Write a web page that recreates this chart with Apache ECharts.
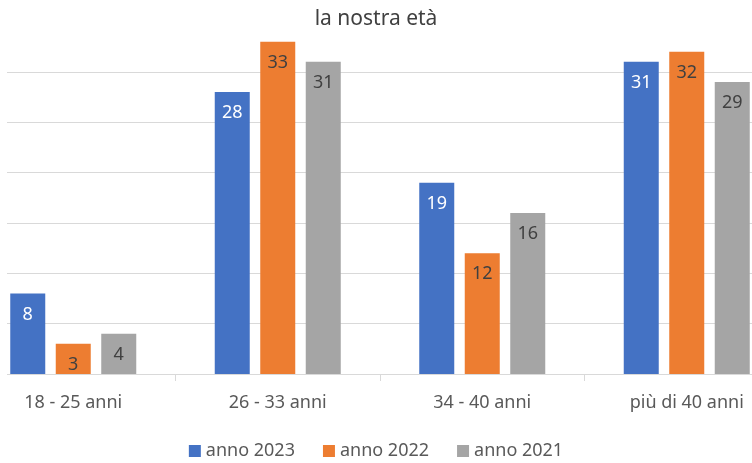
<!DOCTYPE html>
<html>
<head>
<meta charset="utf-8">
<script src="https://cdn.jsdelivr.net/npm/echarts@6/dist/echarts.min.js"></script>
<style>
  html, body { margin: 0; padding: 0; background: #fff; }
  #chart { width: 752px; height: 463px; }
</style>
</head>
<body>
<div id="chart"></div>
<script>
var categories = ['18 - 25 anni', '26 - 33 anni', '34 - 40 anni', 'più di 40 anni'];
var anno2023 = [8, 28, 19, 31];
var anno2022 = [3, 33, 12, 32];
var anno2021 = [4, 31, 16, 29];

var chart = echarts.init(document.getElementById('chart'));
var font = 'Noto Sans';

function labelOf(color) {
  return {
    show: true,
    position: 'insideTop',
    distance: 12,
    color: color,
    fontFamily: font,
    fontSize: 18
  };
}

var option = {
  animation: false,
  color: ['#4472C4', '#ED7D31', '#A5A5A5'],
  title: {
    text: 'la nostra età',
    left: 'center',
    top: 4,
    textStyle: { fontFamily: font, fontSize: 21, fontWeight: 'normal', color: '#404040' }
  },
  legend: {
    top: 437,
    left: 'center',
    icon: 'rect',
    itemWidth: 12,
    itemHeight: 12,
    itemGap: 28,
    textStyle: { fontFamily: font, fontSize: 18, color: '#595959' },
    data: ['anno 2023', 'anno 2022', 'anno 2021']
  },
  grid: { left: -29, width: 818, top: 21.6, height: 352.4, containLabel: false, outerBoundsMode: 'none' },
  xAxis: {
    type: 'category',
    data: categories,
    axisLine: { lineStyle: { color: '#D9D9D9' } },
    axisTick: { show: true, alignWithLabel: false, length: 7, lineStyle: { color: '#D9D9D9' } },
    axisLabel: { fontFamily: font, fontSize: 18, color: '#595959', margin: 20 }
  },
  yAxis: {
    type: 'value',
    min: 0,
    max: 35,
    interval: 5,
    axisLabel: { show: false },
    axisLine: { show: false },
    axisTick: { show: false },
    splitLine: { show: true, showMaxLine: false, lineStyle: { color: '#D9D9D9' } }
  },
  graphic: [{
    type: 'rect',
    shape: { x: 0, y: 15, width: 7, height: 362 },
    style: { fill: '#fff' },
    z: 100
  }],
  series: [
    { name: 'anno 2023', type: 'bar', data: anno2023, barWidth: 35, barGap: '30%', label: labelOf('#fff') },
    { name: 'anno 2022', type: 'bar', data: anno2022, barWidth: 35, barGap: '30%', label: labelOf('#404040') },
    { name: 'anno 2021', type: 'bar', data: anno2021, barWidth: 35, barGap: '30%', label: labelOf('#404040') }
  ]
};

chart.setOption(option);
</script>
</body>
</html>
